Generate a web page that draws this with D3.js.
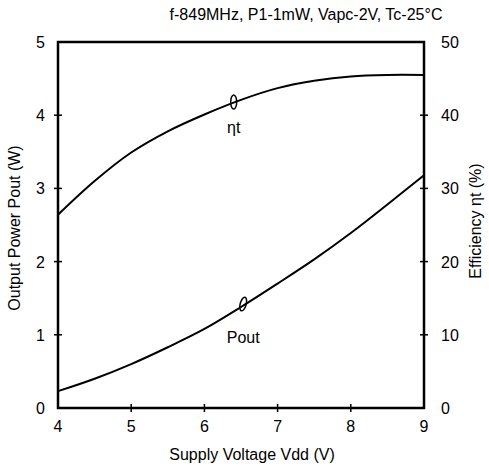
<!DOCTYPE html>
<html>
<head>
<meta charset="utf-8">
<script src="https://cdn.jsdelivr.net/npm/d3@7"></script>
<style>
body { margin: 0; background: #fff; }
svg text { font-family: "Liberation Sans", Arial, sans-serif; fill: #000; }
</style>
</head>
<body>
<svg id="svg"></svg>
<script>
// supply voltage (V)
var vdd = [4, 4.5, 5, 5.5, 6, 6.5, 7, 7.5, 8, 8.5, 9];
// output power (W)
var pout = [0.23, 0.4, 0.6, 0.83, 1.08, 1.38, 1.7, 2.03, 2.39, 2.78, 3.18];
// efficiency (%)
var eta = [26.4, 31.0, 34.9, 37.8, 40.1, 42.1, 43.7, 44.7, 45.3, 45.5, 45.5];

var xTicks = [4, 5, 6, 7, 8, 9];
var leftTicks = [0, 1, 2, 3, 4, 5];
var rightTicks = [0, 10, 20, 30, 40, 50];

var title = "f-849MHz, P1-1mW, Vapc-2V, Tc-25°C";

var width = 489, height = 469;
var m = {left: 58, right: 424, top: 42, bottom: 408};

var svg = d3.select("#svg").attr("width", width).attr("height", height);

var x = d3.scaleLinear().domain([4, 9]).range([m.left, m.right]);
var yL = d3.scaleLinear().domain([0, 5]).range([m.bottom, m.top]);
var yR = d3.scaleLinear().domain([0, 50]).range([m.bottom, m.top]);

// frame
svg.append("rect")
	.attr("x", m.left).attr("y", m.top)
	.attr("width", m.right - m.left).attr("height", m.bottom - m.top)
	.attr("fill", "none").attr("stroke", "#000").attr("stroke-width", 2.5);

// tick marks crossing the axes
svg.selectAll(".xt").data(xTicks.slice(1, -1)).enter().append("line")
	.attr("x1", x).attr("x2", x)
	.attr("y1", m.bottom - 4).attr("y2", m.bottom + 4)
	.attr("stroke", "#000").attr("stroke-width", 1.5);
svg.selectAll(".lt").data(leftTicks.slice(1, -1)).enter().append("line")
	.attr("x1", m.left - 4).attr("x2", m.left + 4)
	.attr("y1", yL).attr("y2", yL)
	.attr("stroke", "#000").attr("stroke-width", 1.5);
svg.selectAll(".rt").data(rightTicks.slice(1, -1)).enter().append("line")
	.attr("x1", m.right - 4).attr("x2", m.right + 4)
	.attr("y1", yR).attr("y2", yR)
	.attr("stroke", "#000").attr("stroke-width", 1.5);

// tick labels
svg.selectAll(".xl").data(xTicks).enter().append("text")
	.attr("x", x).attr("y", m.bottom + 24)
	.attr("text-anchor", "middle").attr("font-size", 16)
	.text(function(d) { return d; });
svg.selectAll(".ll").data(leftTicks).enter().append("text")
	.attr("x", m.left - 13).attr("y", function(d) { return yL(d) + 6; })
	.attr("text-anchor", "end").attr("font-size", 16)
	.text(function(d) { return d; });
svg.selectAll(".rl").data(rightTicks).enter().append("text")
	.attr("x", m.right + 17).attr("y", function(d) { return yR(d) + 6; })
	.attr("text-anchor", "start").attr("font-size", 16)
	.text(function(d) { return d; });

// titles
svg.append("text")
	.attr("x", 306).attr("y", 20)
	.attr("text-anchor", "middle").attr("font-size", 16)
	.text(title);
svg.append("text")
	.attr("x", 252).attr("y", 460)
	.attr("text-anchor", "middle").attr("font-size", 16)
	.text("Supply Voltage Vdd (V)");
svg.append("text")
	.attr("transform", "translate(20,228) rotate(-90)")
	.attr("text-anchor", "middle").attr("font-size", 16)
	.text("Output Power Pout (W)");
svg.append("text")
	.attr("transform", "translate(481,221) rotate(-90)")
	.attr("text-anchor", "middle").attr("font-size", 16)
	.text("Efficiency \u03b7t (%)");

// curves
var lineP = d3.line()
	.x(function(d, i) { return x(vdd[i]); })
	.y(function(d) { return yL(d); })
	.curve(d3.curveCatmullRom.alpha(0.5));
var lineE = d3.line()
	.x(function(d, i) { return x(vdd[i]); })
	.y(function(d) { return yR(d); })
	.curve(d3.curveCatmullRom.alpha(0.5));

svg.append("path").attr("d", lineP(pout))
	.attr("fill", "none").attr("stroke", "#000").attr("stroke-width", 2);
svg.append("path").attr("d", lineE(eta))
	.attr("fill", "none").attr("stroke", "#000").attr("stroke-width", 2);

// curve markers (small loops) and labels
var etaMark = {v: 6.4, y: 41.8};
var poutMark = {v: 6.53, y: 1.42};

svg.append("ellipse")
	.attr("cx", x(etaMark.v)).attr("cy", yR(etaMark.y))
	.attr("rx", 3).attr("ry", 7)
	.attr("fill", "none").attr("stroke", "#000").attr("stroke-width", 1.5);
svg.append("ellipse")
	.attr("transform", "translate(" + x(poutMark.v) + "," + yL(poutMark.y) + ") rotate(15)")
	.attr("rx", 3).attr("ry", 7)
	.attr("fill", "none").attr("stroke", "#000").attr("stroke-width", 1.5);

svg.append("text")
	.attr("x", x(etaMark.v)).attr("y", yR(etaMark.y) + 31)
	.attr("text-anchor", "middle").attr("font-size", 16)
	.text("\u03b7t");
svg.append("text")
	.attr("x", x(poutMark.v)).attr("y", yL(poutMark.y) + 39)
	.attr("text-anchor", "middle").attr("font-size", 16)
	.text("Pout");
</script>
</body>
</html>
